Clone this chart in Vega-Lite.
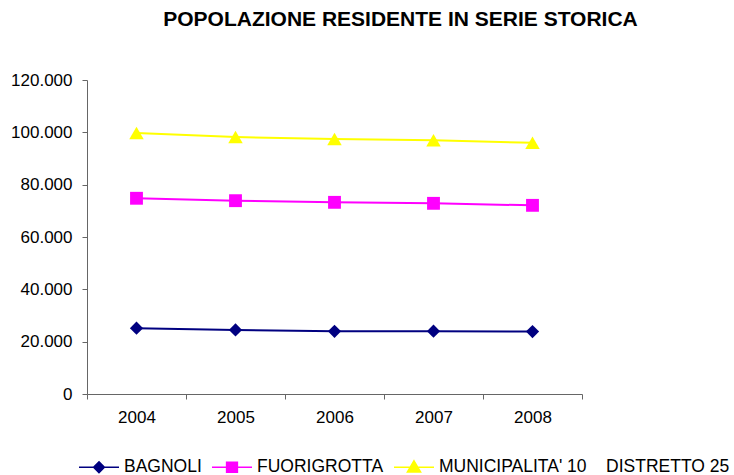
{
  "$schema": "https://vega.github.io/schema/vega-lite/v6.json",
  "width": 495,
  "height": 314,
  "autosize": "none",
  "padding": {"left": 87, "top": 80, "right": 152, "bottom": 81},
  "background": "white",
  "config": {"view": {"stroke": null}},
  "title": {
    "text": "POPOLAZIONE RESIDENTE IN SERIE STORICA",
    "font": "Liberation Sans",
    "fontSize": 21,
    "fontWeight": "bold",
    "color": "black",
    "anchor": "middle",
    "frame": "group",
    "dx": 66,
    "baseline": "alphabetic",
    "offset": 24
  },
  "data": {
    "values": [
      {"anno": 2004, "zona": "BAGNOLI", "pop": 25150},
      {"anno": 2005, "zona": "BAGNOLI", "pop": 24500},
      {"anno": 2006, "zona": "BAGNOLI", "pop": 23950},
      {"anno": 2007, "zona": "BAGNOLI", "pop": 24000},
      {"anno": 2008, "zona": "BAGNOLI", "pop": 23850},
      {"anno": 2004, "zona": "FUORIGROTTA", "pop": 74800},
      {"anno": 2005, "zona": "FUORIGROTTA", "pop": 73880},
      {"anno": 2006, "zona": "FUORIGROTTA", "pop": 73250},
      {"anno": 2007, "zona": "FUORIGROTTA", "pop": 72870},
      {"anno": 2008, "zona": "FUORIGROTTA", "pop": 72100},
      {"anno": 2004, "zona": "MUNICIPALITA' 10\u00a0\u00a0\u00a0 DISTRETTO 25", "pop": 99750},
      {"anno": 2005, "zona": "MUNICIPALITA' 10\u00a0\u00a0\u00a0 DISTRETTO 25", "pop": 98200},
      {"anno": 2006, "zona": "MUNICIPALITA' 10\u00a0\u00a0\u00a0 DISTRETTO 25", "pop": 97450},
      {"anno": 2007, "zona": "MUNICIPALITA' 10\u00a0\u00a0\u00a0 DISTRETTO 25", "pop": 96950},
      {"anno": 2008, "zona": "MUNICIPALITA' 10\u00a0\u00a0\u00a0 DISTRETTO 25", "pop": 96000}
    ]
  },
  "encoding": {
    "x": {
      "field": "anno",
      "type": "quantitative",
      "scale": {"domain": [2003.5, 2008.5], "nice": false, "zero": false},
      "axis": {
        "title": null,
        "grid": false,
        "values": [2003.5, 2004, 2004.5, 2005, 2005.5, 2006, 2006.5, 2007, 2007.5, 2008, 2008.5],
        "labelExpr": "datum.value % 1 === 0 ? '' + datum.value : ''",
        "labelOverlap": false,
        "labelFlush": false,
        "labelBound": false,
        "tickOpacity": {"condition": {"test": "datum.value % 1 !== 0", "value": 1}, "value": 0},
        "tickSize": 5,
        "tickColor": "#666666",
        "domainColor": "#666666",
        "labelFont": "Liberation Sans",
        "labelFontSize": 17,
        "labelColor": "black",
        "labelPadding": 10
      }
    },
    "y": {
      "field": "pop",
      "type": "quantitative",
      "scale": {"domain": [0, 120000], "nice": false},
      "axis": {
        "title": null,
        "grid": false,
        "values": [0, 20000, 40000, 60000, 80000, 100000, 120000],
        "labelExpr": "replace(format(datum.value, ','), ',', '.')",
        "tickSize": 5,
        "tickColor": "#666666",
        "domainColor": "#666666",
        "labelFont": "Liberation Sans",
        "labelFontSize": 17,
        "labelColor": "black",
        "labelPadding": 10
      }
    },
    "color": {
      "field": "zona",
      "type": "nominal",
      "scale": {
        "domain": ["BAGNOLI", "FUORIGROTTA", "MUNICIPALITA' 10\u00a0\u00a0\u00a0 DISTRETTO 25"],
        "range": ["#000080", "#FF00FF", "#FFFF00"]
      },
      "legend": {
        "orient": "none",
        "legendX": -9,
        "legendY": 366,
        "direction": "horizontal",
        "title": null,
        "padding": 0,
        "symbolSize": 1600,
        "symbolStrokeWidth": 1.5,
        "labelFont": "Liberation Sans",
        "labelFontSize": 17.5,
        "labelColor": "black",
        "labelOffset": 4,
        "labelLimit": 400,
        "columnPadding": 7,
        "encode": {
          "symbols": {
            "update": {
              "shape": {"signal": "datum.value === 'BAGNOLI' ? 'M-1,0H1M0,-0.27L0.27,0L0,0.27L-0.27,0Z' : datum.value === 'FUORIGROTTA' ? 'M-1,0H1M-0.27,-0.25H0.27V0.25H-0.27Z' : 'M-1,0H1M0,-0.32L0.33,0.24H-0.33Z'"},
              "fill": {"scale": "color", "field": "value"},
              "stroke": {"scale": "color", "field": "value"},
              "opacity": {"value": 1},
              "fillOpacity": {"value": 1}
            }
          }
        }
      }
    }
  },
  "layer": [
    {"mark": {"type": "line", "strokeWidth": 2}},
    {
      "transform": [{"filter": "datum.zona === 'BAGNOLI'"}],
      "mark": {"type": "point", "filled": true, "opacity": 1, "size": 175, "shape": "diamond"}
    },
    {
      "transform": [{"filter": "datum.zona === 'FUORIGROTTA'"}],
      "mark": {"type": "point", "filled": true, "opacity": 1, "size": 165, "shape": "square"}
    },
    {
      "transform": [{"filter": "datum.zona !== 'BAGNOLI' && datum.zona !== 'FUORIGROTTA'"}],
      "mark": {"type": "point", "filled": true, "opacity": 1, "size": 210, "shape": "triangle-up"}
    }
  ]
}
